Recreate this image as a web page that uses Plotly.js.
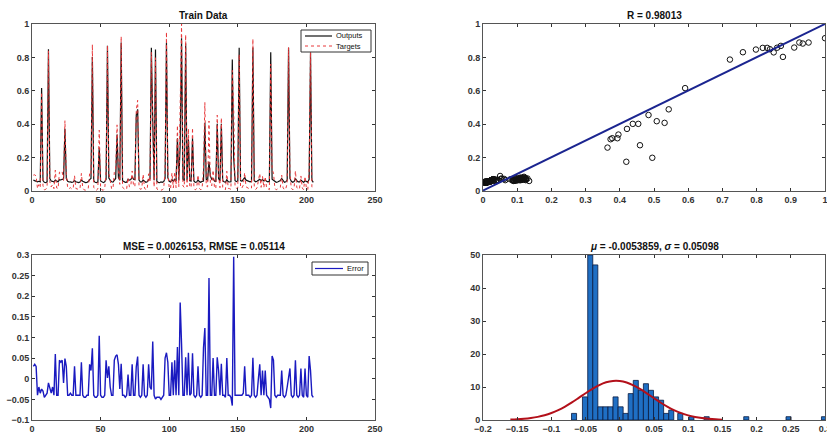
<!DOCTYPE html>
<html><head><meta charset="utf-8">
<script src="https://cdn.plot.ly/plotly-3.0.1.min.js"></script>
<style>html,body{margin:0;padding:0;background:#fff}#c{width:827px;height:433px}</style>
</head><body><div id="c"></div>
<script>
// ---- Train data: sample index, network outputs and targets ----
const outputs = [
.065,.062,.060,.055,.058,.055,.616,.062,.052,.050,
.055,.849,.075,.060,.058,.054,.065,.058,.055,.068,
.066,.070,.072,.372,.075,.058,.054,.055,.052,.054,
.062,.055,.052,.050,.054,.065,.058,.052,.050,.052,
.056,.068,.075,.803,.062,.052,.050,.053,.260,.060,
.052,.050,.055,.070,.869,.078,.065,.055,.053,.066,
.075,.338,.080,.065,.889,.062,.055,.052,.053,.070,
.065,.068,.085,.070,.068,.455,.489,.065,.055,.054,
.065,.058,.052,.055,.068,.072,.857,.418,.065,.847,
.058,.052,.050,.055,.052,.056,.075,.889,.080,.058,
.054,.068,.058,.070,.060,.316,.065,.274,.915,.070,
.062,.883,.065,.310,.062,.060,.316,.060,.052,.054,
.066,.056,.052,.058,.060,.408,.070,.065,.175,.090,
.070,.075,.060,.055,.402,.075,.060,.402,.062,.055,
.052,.068,.056,.054,.055,.787,.199,.062,.056,.060,
.857,.062,.058,.070,.080,.065,.060,.058,.055,.058,
.859,.062,.055,.058,.065,.070,.062,.068,.060,.066,
.058,.055,.058,.831,.070,.065,.058,.052,.054,.058,
.062,.075,.060,.052,.055,.065,.858,.075,.058,.052,
.056,.075,.062,.055,.055,.065,.058,.052,.062,.056,
.053,.070,.830,.065,.052];
const targets = [
.095,.097,.090,.015,.038,.020,.591,.032,.007,.010,
.020,.839,.055,.025,.038,.014,.125,.018,.015,.113,
.106,.115,.062,.421,.105,.018,.014,.020,.012,.014,
.092,.015,.012,.010,.014,.105,.018,.007,.005,.012,
.016,.103,.095,.877,.022,.007,.005,.013,.364,.020,
.007,.005,.015,.115,.871,.108,.045,.015,.013,.111,
.130,.396,.115,.040,.925,.022,.015,.007,.013,.080,
.025,.028,.120,.030,.028,.484,.543,.025,.010,.014,
.100,.018,.007,.015,.103,.052,.831,.508,.025,.798,
.013,.007,.005,.005,.007,.016,.125,.952,.120,.018,
.014,.108,.018,.115,.020,.393,.025,.459,1.000,.030,
.022,.935,.025,.373,.022,.025,.378,.020,.007,.014,
.096,.016,.007,.018,.135,.531,.030,.025,.419,.050,
.030,.125,.020,.015,.454,.095,.020,.438,.022,.015,
.007,.118,.016,.014,.010,.722,.495,.022,.016,.020,
.818,.022,.018,.035,.110,.025,.020,.018,.010,.018,
.910,.022,.010,.018,.065,.105,.022,.088,.020,.086,
.018,.010,.008,.760,.125,.110,.018,.007,.014,.018,
.022,.095,.020,.007,.015,.045,.860,.100,.018,.007,
.016,.120,.022,.010,.015,.090,.018,.007,.087,.016,
.008,.125,.850,.025,.007];
const sampleIndex = outputs.map((_, i) => i + 1);
const errors = targets.map((t, i) => t - outputs[i]);

// ---- Regression fit line (R = 0.98013) ----
const fitX = [0, 1];
const fitY = [0.003, 1.0];

// ---- Error histogram (bin centers and counts) ----
const binCenters = [-0.0669,-0.0509,-0.0432,-0.0358,-0.0284,-0.0210,-0.0136,-0.0062,0.0012,0.0086,
  0.0160,0.0234,0.0308,0.0382,0.0456,0.0530,0.0604,0.0678,0.0752,0.0884,0.1047,0.1270,0.1849,0.2467,0.2985];
const binCounts = [2,7,50,47,4,4,4,7,4,2,8,12,9,11,9,7,6,2,3,2,1,1,1,1,1];
const binWidth = 0.0074;

// ---- Normal fit curve (mu = -0.0053859, sigma = 0.05098), read points ----
const fitCurveX = [-0.16,-0.15,-0.14,-0.13,-0.12,-0.11,-0.10,-0.09,-0.08,-0.07,-0.06,-0.05,-0.04,-0.03,-0.02,-0.01,
  0.00,0.01,0.02,0.03,0.04,0.05,0.06,0.07,0.08,0.09,0.10,0.11,0.12,0.13,0.14,0.15];
const fitCurveY = [0.12,0.21,0.36,0.60,0.95,1.45,2.13,3.00,4.08,5.33,6.70,8.11,9.45,10.59,11.42,11.85,
  11.83,11.37,10.51,9.35,8.01,6.60,5.23,3.99,2.93,2.07,1.40,0.92,0.58,0.35,0.20,0.11];

const titles = ['Train Data', 'R = 0.98013', 'MSE = 0.0026153, RMSE = 0.05114',
  '<i>\u03bc</i> = -0.0053859, <i>\u03c3</i> = 0.05098'];
const legendNames = ['Outputs', 'Targets', 'Error'];

const F = 'Liberation Sans, Arial, sans-serif';
const C_OUT = '#111', C_TGT = '#e8383a', C_ERR = '#1a1ac0';
const traces = [
  {x: sampleIndex, y: outputs, type: 'scatter', mode: 'lines', name: legendNames[0],
   line: {color: C_OUT, width: 1.2}, xaxis: 'x', yaxis: 'y'},
  {x: sampleIndex, y: targets, type: 'scatter', mode: 'lines', name: legendNames[1],
   line: {color: C_TGT, width: 1, dash: 'dot'}, xaxis: 'x', yaxis: 'y'},
  {x: targets, y: outputs, type: 'scatter', mode: 'markers',
   marker: {symbol: 'circle-open', size: 5.5, color: '#111', line: {width: 1}}, xaxis: 'x2', yaxis: 'y2'},
  {x: fitX, y: fitY, type: 'scatter', mode: 'lines',
   line: {color: '#1b2590', width: 2}, xaxis: 'x2', yaxis: 'y2'},
  {x: sampleIndex, y: errors, type: 'scatter', mode: 'lines', name: legendNames[2],
   line: {color: C_ERR, width: 1.4}, xaxis: 'x3', yaxis: 'y3'},
  {x: binCenters, y: binCounts, type: 'bar', width: binWidth,
   marker: {color: '#1f6fc4', line: {color: '#0a1a40', width: 0.8}}, xaxis: 'x4', yaxis: 'y4'},
  {x: fitCurveX, y: fitCurveY, type: 'scatter', mode: 'lines',
   line: {color: '#b3101a', width: 2, shape: 'spline'}, xaxis: 'x4', yaxis: 'y4'}
];

function ax(domain, range, dtick, anchor) {
  return {domain, range, dtick, anchor, showgrid: false, zeroline: false,
    showline: true, linecolor: '#555', linewidth: 1, mirror: 'ticks', ticks: 'inside',
    ticklen: 3, tickcolor: '#333', ticklabeloverflow: 'allow',
    tickfont: {family: F, size: 9, color: '#333', weight: 'bold'}};
}
const W = 827, H = 433;
const px = v => v / W, py = v => 1 - v / H;
const L = [px(32), px(375)], R = [px(483), px(825)];
const T = [py(191), py(24)], B = [py(420), py(255)];

// manual MATLAB-style legend boxes (paper coords)
const shapes = [
  {type: 'rect', xref: 'paper', yref: 'paper', x0: px(301), x1: px(371), y0: py(52), y1: py(30),
   line: {color: '#333', width: 1}, fillcolor: '#fff'},
  {type: 'line', xref: 'paper', yref: 'paper', x0: px(305), x1: px(332), y0: py(36), y1: py(36),
   line: {color: C_OUT, width: 1.2}},
  {type: 'line', xref: 'paper', yref: 'paper', x0: px(305), x1: px(332), y0: py(46), y1: py(46),
   line: {color: C_TGT, width: 1, dash: 'dot'}},
  {type: 'rect', xref: 'paper', yref: 'paper', x0: px(312), x1: px(368), y0: py(275), y1: py(262),
   line: {color: '#333', width: 1}, fillcolor: '#fff'},
  {type: 'line', xref: 'paper', yref: 'paper', x0: px(315), x1: px(343), y0: py(268.5), y1: py(268.5),
   line: {color: C_ERR, width: 1.2}}
];
const legendText = [
  {name: legendNames[0], x: 334, y: 36}, {name: legendNames[1], x: 334, y: 46},
  {name: legendNames[2], x: 345, y: 268.5}
].map(o => ({text: o.name, xref: 'paper', yref: 'paper', x: px(o.x), y: py(o.y),
  xanchor: 'left', yanchor: 'middle', showarrow: false,
  font: {family: F, size: 7.5, color: '#111'}}));

const layout = {
  width: W, height: H, margin: {l: 0, r: 0, t: 0, b: 0}, showlegend: false,
  paper_bgcolor: '#fff', plot_bgcolor: '#fff', bargap: 0,
  xaxis: ax(L, [0, 250], 50, 'y'),
  yaxis: ax(T, [0, 1], 0.2, 'x'),
  xaxis2: ax(R, [0, 1], 0.1, 'y2'),
  yaxis2: ax(T, [0, 1], 0.2, 'x2'),
  xaxis3: ax(L, [0, 250], 50, 'y3'),
  yaxis3: ax(B, [-0.1, 0.3], 0.05, 'x3'),
  xaxis4: ax(R, [-0.2, 0.3], 0.05, 'y4'),
  yaxis4: ax(B, [0, 50], 10, 'x4'),
  shapes: shapes,
  annotations: [[L, T], [R, T], [L, B], [R, B]].map((d, i) => ({
    text: '<b>' + titles[i] + '</b>', xref: 'paper', yref: 'paper',
    x: (d[0][0] + d[0][1]) / 2, y: d[1][1], yshift: 1, xanchor: 'center', yanchor: 'bottom',
    showarrow: false, font: {family: F, size: 10, color: '#111'}})).concat(legendText)
};
Plotly.newPlot('c', traces, layout, {staticPlot: true});
</script></body></html>
